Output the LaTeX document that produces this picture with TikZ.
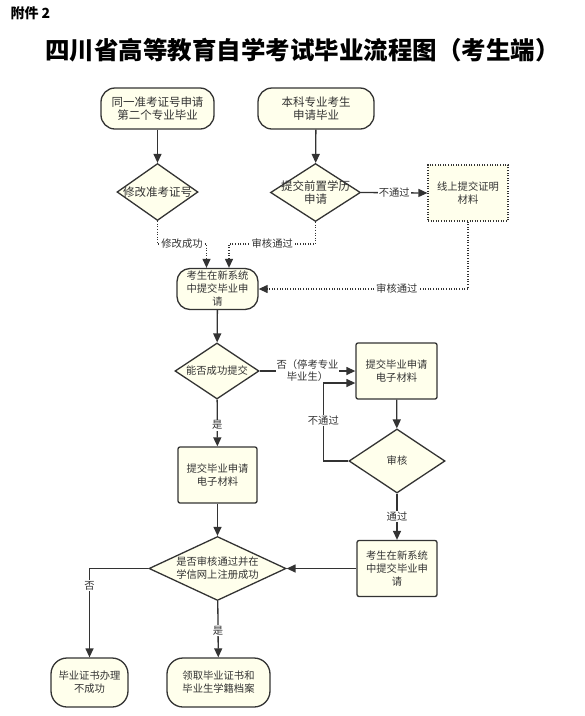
\documentclass[tikz,border=0pt]{standalone}
\usepackage{fontspec}
\setmainfont{Noto Sans CJK SC}
\usetikzlibrary{shapes.geometric,arrows.meta}
\definecolor{fillc}{RGB}{255,255,236}
\definecolor{linec}{RGB}{51,51,51}
\begin{document}
\begin{tikzpicture}[x=1pt,y=-1pt,
  base/.style={draw=linec, line width=1.3pt, fill=fillc, align=center, inner sep=0pt, text=linec},
  bigt/.style={font=\fontsize{11.5}{12.5}\selectfont},
  smallt/.style={font=\fontsize{10.3}{13}\selectfont},
  term/.style={base, rectangle, rounded corners=14pt},
  proc/.style={base, rectangle, rounded corners=2pt},
  dec/.style={base, diamond},
  txt/.style={align=center, inner sep=0pt, text=linec},
  arr/.style={draw=linec, line width=1.3pt, -{Triangle[length=9pt,width=8pt]}},
  dotarr/.style={draw=linec, line width=1.2pt, dash pattern=on 1pt off 1.6pt, -{Triangle[length=9pt,width=8pt]}},
  lbl/.style={fill=white, inner sep=1pt, text=linec, font=\fontsize{10.3}{12}\selectfont, align=center}
]
\useasboundingbox[fill=white] (0,0) rectangle (585,716);

% headings
\node[anchor=west, font=\fontsize{14}{14}\bfseries\selectfont] (att) at (7,13) {附件 2};
\node[font=\fontsize{24.5}{24.5}\bfseries\selectfont] (title) at (302.5,50) {四川省高等教育自学考试毕业流程图（考生端）};

% top row
\node[term, bigt, minimum width=113, minimum height=41] (t1) at (157.5,108.5) {同一准考证号申请\\第二个专业毕业};
\node[term, bigt, minimum width=116, minimum height=41] (t2) at (316,108.5) {本科专业考生\\申请毕业};

\node[dec, minimum width=81, minimum height=57] (d1) at (157.5,192) {};
\node[txt, bigt] (d1t) at (d1) {修改准考证号};
\node[dec, minimum width=90, minimum height=58] (d2) at (315.5,192.5) {};
\node[txt, bigt] (d2t) at (d2) {提交前置学历\\申请};

\node[base, smallt, rectangle, dash pattern=on 1pt off 1.6pt, line width=1.2pt, minimum width=80, minimum height=56] (ol) at (468,193) {线上提交证明\\材料};

% middle
\node[term, smallt, minimum width=81, minimum height=41, rounded corners=13pt] (n3) at (217.5,289) {考生在新系统\\中提交毕业申\\请};

\node[dec, minimum width=84, minimum height=56] (d3) at (217,371) {};
\node[txt, smallt] (d3t) at (d3) {能否成功提交};

\node[proc, smallt, minimum width=81, minimum height=56] (p1) at (396.5,371) {提交毕业申请\\电子材料};
\node[dec, minimum width=96, minimum height=64] (d4) at (397,461) {};
\node[txt, smallt] (d4t) at (d4) {审核};

\node[proc, smallt, minimum width=79, minimum height=56] (p2) at (217.5,475) {提交毕业申请\\电子材料};
\node[proc, smallt, minimum width=80, minimum height=56] (p3) at (397,568.5) {考生在新系统\\中提交毕业申\\请};

\node[dec, minimum width=137, minimum height=64] (d5) at (217.5,568.5) {};
\node[txt, smallt] (d5t) at (d5) {是否审核通过并在\\学信网上注册成功};

\node[term, smallt, minimum width=77, minimum height=49, rounded corners=16pt] (t4) at (89.5,682.5) {毕业证书办理\\不成功};
\node[term, smallt, minimum width=103, minimum height=49, rounded corners=16pt] (t5) at (218.5,682.5) {领取毕业证书和\\毕业生学籍档案};

% connectors
\draw[arr] (t1) -- (d1);
\draw[arr] (t2) -- (d2);
\draw[arr] (d2.east) -- node[lbl]{不通过} (ol.west);
\draw[dotarr] (d1.south) |- node[lbl, pos=0.75]{修改成功} ([xshift=-11pt]n3.north |- 0,244) -- ([xshift=-11pt]n3.north);
\draw[dotarr] (d2.south) |- node[lbl, pos=0.75]{审核通过} ([xshift=11.5pt]n3.north |- 0,244) -- ([xshift=11.5pt]n3.north);
\draw[dotarr] (ol.south) |- node[lbl, pos=0.67]{审核通过} (n3.east);
\draw[arr] (n3) -- (d3);
\draw[arr] (d3.east) -- node[lbl]{否（停考专业\\毕业生）} (p1.west);
\draw[arr] (p1) -- (d4);
\draw[arr] (d4.west) -- ++(-25,0) |- node[lbl, pos=0.26]{不通过} ([yshift=-12pt]p1.west);
\draw[arr] (d3) -- node[lbl, pos=0.55]{是} (p2);
\draw[arr] (d4) -- node[lbl]{通过} (p3);
\draw[arr] (p2) -- (d5);
\draw[arr] (p3) -- (d5);
\draw[arr] (d5.west) -| node[lbl, pos=0.595]{否} (t4);
\draw[arr] (d5) -- node[lbl, pos=0.52]{是} (t5);
\end{tikzpicture}
\end{document}
